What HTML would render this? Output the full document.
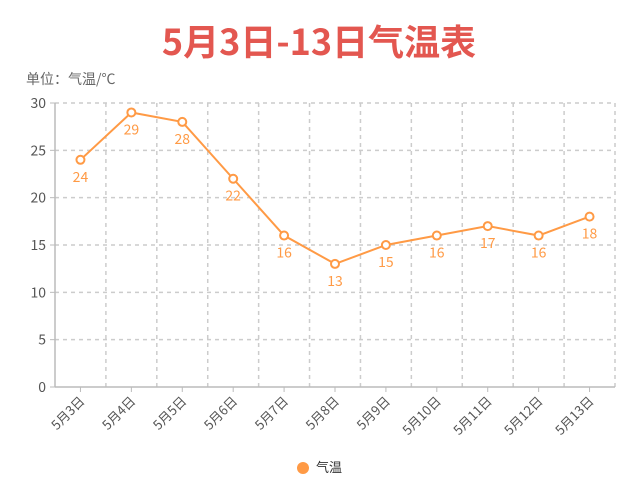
<!DOCTYPE html>
<html><head><meta charset="utf-8"><style>
body{margin:0;background:#fff;}
svg{display:block;font-family:"Noto Sans CJK SC","Liberation Sans",sans-serif;}
</style></head><body>
<svg id="chart" width="639" height="500" viewBox="0 0 639 500">
<text x="319" y="55" text-anchor="middle" font-size="36" font-weight="bold" fill="#e35750">5月3日-13日气温表</text>
<text x="26" y="84" font-size="14" fill="#666">单位：气温/℃</text>
<g id="grid"></g><g id="axes"></g><g id="series"></g>
<g>
<circle cx="303" cy="468" r="6" fill="#ff9a45"></circle>
<text x="316" y="472" font-size="13" fill="#333">气温</text>
</g>
</svg>
<script>
const categories=["5月3日","5月4日","5月5日","5月6日","5月7日","5月8日","5月9日","5月10日","5月11日","5月12日","5月13日"];
const temps=[24,29,28,22,16,13,15,16,17,16,18];
const yTicks=[0,5,10,15,20,25,30];
const NS="http://www.w3.org/2000/svg";
const L=55,R=615,T=103,B=387,yMax=30;
const band=(R-L)/categories.length;
const xc=i=>L+band*(i+0.5);
const y=v=>B-(v/yMax)*(B-T);
function mk(tag,attrs,parent){const e=document.createElementNS(NS,tag);for(const k in attrs)e.setAttribute(k,attrs[k]);parent.appendChild(e);return e;}
const grid=document.getElementById('grid'),axes=document.getElementById('axes'),series=document.getElementById('series');
yTicks.forEach(v=>{
 if(v>0){const g=mk('line',{x1:L,x2:R,y1:y(v),y2:y(v),stroke:'#ccc','stroke-dasharray':'4,4','stroke-width':1.5},grid);
 
 }
 const t=mk('text',{x:L-9,y:y(v)+5,'text-anchor':'end','font-size':14,fill:'#555'},axes);t.textContent=v;
 
 
 mk('line',{x1:L-5,x2:L,y1:y(v),y2:y(v),stroke:'#bbb'},axes);
});
for(let i=1;i<=categories.length;i++){
 const g=mk('line',{x1:L+band*i,x2:L+band*i,y1:T,y2:B,stroke:'#ccc','stroke-dasharray':'4,4','stroke-width':1.5},grid);
 
 
}
mk('line',{x1:L,x2:L,y1:T,y2:B,stroke:'#bbb','stroke-width':1.5},axes);
mk('line',{x1:L,x2:R,y1:B,y2:B,stroke:'#bbb','stroke-width':1.5},axes);
categories.forEach((c,i)=>{
 mk('line',{x1:xc(i),x2:xc(i),y1:B,y2:B+5,stroke:'#bbb'},axes);
 const t=mk('text',{x:xc(i)+5,y:B+15,'text-anchor':'end','font-size':13,fill:'#555',transform:`rotate(-45 ${xc(i)+5} ${B+15})`},axes);
 t.textContent=c;
 
 
});
const pts=temps.map((v,i)=>xc(i)+','+y(v)).join(' ');
const line=mk('polyline',{points:pts,fill:'none',stroke:'#ff9a45','stroke-width':2},series);


temps.forEach((v,i)=>{
 const c=mk('circle',{cx:xc(i),cy:y(v),r:4,fill:'#fff',stroke:'#ff9a45','stroke-width':2},series);
 
 
 const t=mk('text',{x:xc(i),y:y(v)+22,'text-anchor':'middle','font-size':14,fill:'#ff9a45'},series);
 t.textContent=v;
 
 
});
</script>
</body></html>
